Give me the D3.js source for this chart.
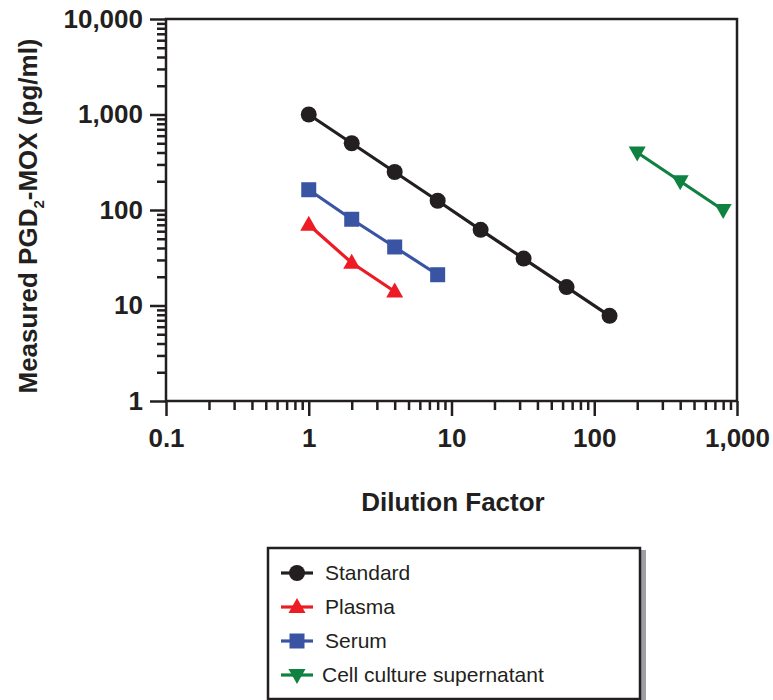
<!DOCTYPE html>
<html><head><meta charset="utf-8">
<script src="https://cdn.jsdelivr.net/npm/d3@7"></script>
<style>body{margin:0;background:#fff}svg{display:block}text{font-family:"Liberation Sans",Arial,Helvetica,sans-serif}</style>
</head><body><svg id="c" width="773" height="700"></svg>
<script>
const dilutionStandard = [1, 2, 4, 8, 16, 32, 64, 128];
const valuesStandard = [1000, 500, 250, 125, 62, 31, 15.6, 7.8];
const dilutionPlasma = [1, 2, 4];
const valuesPlasma = [70, 28, 14];
const dilutionSerum = [1, 2, 4, 8];
const valuesSerum = [163, 80, 41, 21];
const dilutionCell = [200, 400, 800];
const valuesCell = [400, 200, 100];
const seriesNames = ["Standard", "Plasma", "Serum", "Cell culture supernatant"];
const xTickValues = [0.1, 1, 10, 100, 1000];
const xTickLabels = ["0.1", "1", "10", "100", "1,000"];
const yTickValues = [1, 10, 100, 1000, 10000];
const yTickLabels = ["1", "10", "100", "1,000", "10,000"];

const series = [
  {name: seriesNames[0], xs: dilutionStandard, ys: valuesStandard, color: "#231f20", shape: "circle"},
  {name: seriesNames[1], xs: dilutionPlasma, ys: valuesPlasma, color: "#ed1c24", shape: "up"},
  {name: seriesNames[2], xs: dilutionSerum, ys: valuesSerum, color: "#3a54a4", shape: "square"},
  {name: seriesNames[3], xs: dilutionCell, ys: valuesCell, color: "#0f8140", shape: "down"}
];

const svg = d3.select("#c");
const L = 166, R = 737, T = 19, B = 401;
const x = d3.scaleLog().domain([0.1, 1000]).range([L, R]);
const y = d3.scaleLog().domain([1, 10000]).range([B, T]);
const axisColor = "#231f20";
const FS = 26;

// frame
svg.append("rect").attr("x", L).attr("y", T).attr("width", R - L).attr("height", B - T)
  .attr("fill", "none").attr("stroke", axisColor).attr("stroke-width", 2.5);

// minor ticks
const minorX = [], minorY = [];
for (let d = 0.1; d < 1000; d *= 10) for (let k = 2; k <= 9; k++) minorX.push(d * k);
for (let d = 1; d < 10000; d *= 10) for (let k = 2; k <= 9; k++) minorY.push(d * k);

const xMinor = d3.axisBottom(x).tickValues(minorX).tickSize(9).tickFormat("");
const yMinor = d3.axisLeft(y).tickValues(minorY).tickSize(9).tickFormat("");
const xMajor = d3.axisBottom(x).tickValues(xTickValues).tickSize(15).tickPadding(13)
  .tickFormat((d, i) => xTickLabels[i]);
const yMajor = d3.axisLeft(y).tickValues(yTickValues).tickSize(16).tickPadding(7)
  .tickFormat((d, i) => yTickLabels[i]);

function styleAxis(g) {
  g.select(".domain").remove();
  g.attr("font-family", null).attr("font-size", null);
  g.selectAll("line").attr("stroke", axisColor).attr("stroke-width", 2.5);
  g.selectAll("text").attr("fill", axisColor).style("font-size", FS + "px").style("font-weight", "bold");
}
svg.append("g").attr("transform", `translate(0,${B})`).call(xMinor).call(styleAxis);
svg.append("g").attr("transform", `translate(${L},0)`).call(yMinor).call(styleAxis);
svg.append("g").attr("transform", `translate(0,${B})`).call(xMajor).call(styleAxis);
svg.append("g").attr("transform", `translate(${L},0)`).call(yMajor).call(styleAxis);

// markers
function marker(g, shape, color) {
  if (shape === "circle") g.append("circle").attr("r", 8).attr("fill", color);
  else if (shape === "square") g.append("rect").attr("x", -7.5).attr("y", -7.5).attr("width", 15).attr("height", 15).attr("fill", color);
  else if (shape === "up") g.append("path").attr("d", "M0,-9 L8.5,6 L-8.5,6 Z").attr("fill", color);
  else g.append("path").attr("d", "M0,9 L8.5,-6 L-8.5,-6 Z").attr("fill", color);
}

const line = d3.line().x(d => x(d[0])).y(d => y(d[1]));
series.forEach(s => {
  const pts = s.xs.map((v, i) => [v, s.ys[i]]);
  svg.append("path").datum(pts).attr("d", line).attr("fill", "none")
    .attr("stroke", s.color).attr("stroke-width", 3.2);
  pts.forEach(p => {
    const g = svg.append("g").attr("transform", `translate(${x(p[0])},${y(p[1])})`);
    marker(g, s.shape, s.color);
  });
});

// axis titles
svg.append("text").attr("x", 453).attr("y", 511).attr("text-anchor", "middle")
  .style("font-size", FS + "px").style("font-weight", "bold").attr("fill", axisColor).text("Dilution Factor");
const yl = svg.append("text").attr("transform", "translate(37,216) rotate(-90)").attr("text-anchor", "middle")
  .style("font-size", FS + "px").style("font-weight", "bold").attr("fill", axisColor);
yl.append("tspan").text("Measured PGD");
yl.append("tspan").attr("dy", 7).style("font-size", "15px").text("2");
yl.append("tspan").attr("dy", -7).text("-MOX (pg/ml)");

// legend
const lx = 268, ly = 548, lw = 372, lh = 151;
svg.append("rect").attr("x", lx + lw).attr("y", ly + 2).attr("width", 6).attr("height", lh).attr("fill", "#9d9fa2");
svg.append("rect").attr("x", lx).attr("y", ly).attr("width", lw).attr("height", lh)
  .attr("fill", "#fff").attr("stroke", axisColor).attr("stroke-width", 2.5);
series.forEach((s, i) => {
  const cy = 573 + i * 34;
  svg.append("line").attr("x1", 281).attr("x2", 313).attr("y1", cy).attr("y2", cy)
    .attr("stroke", s.color).attr("stroke-width", 3.2);
  const g = svg.append("g").attr("transform", `translate(297,${cy})`);
  marker(g, s.shape, s.color);
  svg.append("text").attr("x", i === 3 ? 322 : 325).attr("y", cy + 7).style("font-size", "21px")
    .attr("fill", axisColor).text(s.name);
});
</script></body></html>
